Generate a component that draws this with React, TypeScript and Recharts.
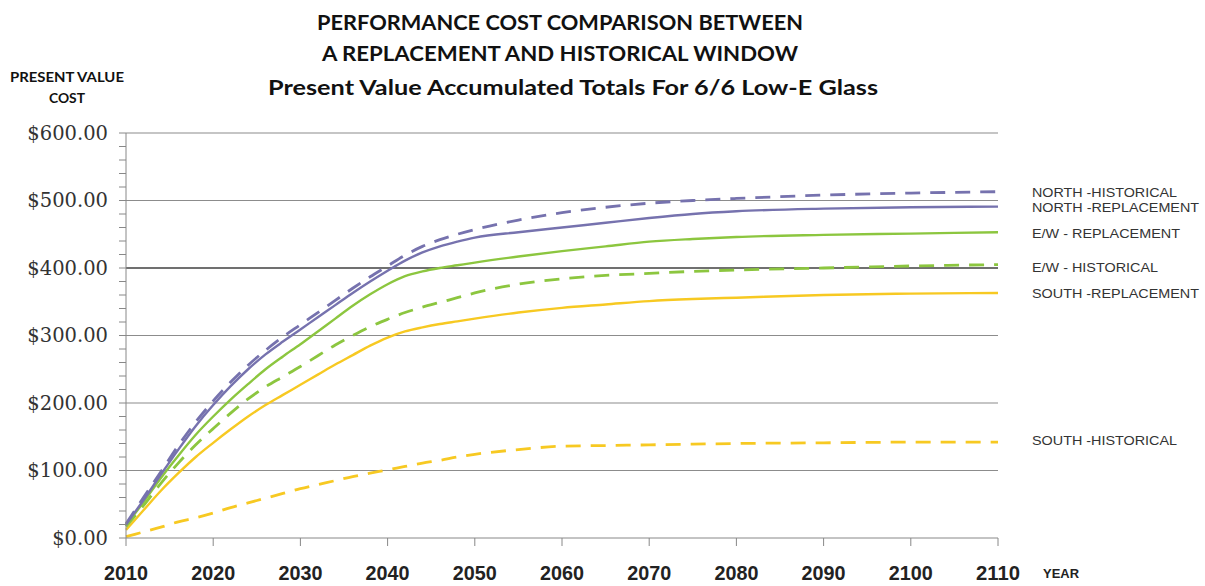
import React from "react";
import { LineChart, Line, XAxis, YAxis, ReferenceLine } from "recharts";

const years = [2010, 2012, 2014, 2016, 2018, 2020, 2022, 2024, 2026, 2028, 2030, 2032, 2034, 2036, 2038, 2040, 2042, 2044, 2046, 2048, 2050, 2055, 2060, 2065, 2070, 2075, 2080, 2090, 2100, 2110];

const northHistorical = [21, 60, 98, 137, 172, 203, 231, 256, 278, 298, 316, 334, 352, 370, 387, 403, 419, 432, 442, 450, 457, 471, 482, 490, 496, 500, 503, 508, 511, 513];
const northReplacement = [20, 56, 94, 131, 166, 197, 225, 250, 272, 291, 309, 327, 345, 363, 380, 396, 411, 423, 432, 439, 445, 453, 460, 467, 474, 480, 484, 488, 490, 491];
const ewReplacement = [19, 53, 89, 122, 153, 180, 205, 228, 250, 269, 287, 306, 325, 344, 361, 376, 388, 395, 400, 404, 408, 417, 425, 432, 439, 443, 446, 449, 451, 453];
const ewHistorical = [17, 48, 81, 111, 138, 162, 185, 206, 224, 239, 254, 270, 286, 300, 313, 324, 334, 342, 349, 356, 363, 376, 384, 389, 392, 395, 397, 400, 403, 405];
const southReplacement = [12, 41, 70, 96, 120, 141, 161, 180, 197, 212, 227, 242, 257, 271, 285, 297, 306, 312, 317, 321, 325, 334, 341, 346, 351, 354, 356, 360, 362, 363];
const southHistorical = [2, 9, 16, 24, 30, 37, 45, 52, 59, 66, 73, 79, 85, 91, 96, 101, 106, 111, 115, 120, 124, 131, 136, 137, 138, 139, 140, 141, 142, 142];

const xTicks = [2010, 2020, 2030, 2040, 2050, 2060, 2070, 2080, 2090, 2100, 2110];
const yTicks = [0, 20, 40, 60, 80, 100, 120, 140, 160, 180, 200, 220, 240, 260, 280, 300, 320, 340, 360, 380, 400, 420, 440, 460, 480, 500, 520, 540, 560, 580, 600];
const gridValues = [100, 200, 300, 400, 500, 600];

const titleLines = ["PERFORMANCE COST COMPARISON BETWEEN", "A REPLACEMENT AND HISTORICAL WINDOW", "Present Value Accumulated Totals For 6/6 Low-E Glass"];
const yAxisTitle = ["PRESENT VALUE", "COST"];
const xAxisTitle = "YEAR";
const seriesLabels = ["NORTH -HISTORICAL", "NORTH -REPLACEMENT", "E/W - REPLACEMENT", "E/W - HISTORICAL", "SOUTH -REPLACEMENT", "SOUTH -HISTORICAL"];

const data = years.map((year, i) => ({
  year,
  nh: northHistorical[i],
  nr: northReplacement[i],
  ewr: ewReplacement[i],
  ewh: ewHistorical[i],
  sr: southReplacement[i],
  sh: southHistorical[i],
}));

const PURPLE = "#7672AE";
const GREEN = "#8CC63F";
const YELLOW = "#F7C922";

const YTick = (props: any) => {
  const { x, y, payload } = props;
  if (payload.value % 100 !== 0) return null;
  return (
    <text x={x} y={y} textAnchor="end" dominantBaseline="central" fontFamily="DejaVu Serif" fontSize={19.5} fill="#333">
      {"$" + payload.value.toFixed(2)}
    </text>
  );
};

const XTick = (props: any) => {
  const { x, y, payload } = props;
  return (
    <text x={x} y={y + 34} textAnchor="middle" fontFamily="'Liberation Sans Narrow', 'Liberation Sans', sans-serif" fontWeight="bold" fontSize={20} fill="#222" textLength={44} lengthAdjust="spacingAndGlyphs">
      {payload.value}
    </text>
  );
};

const labelStyle = { fontFamily: "'Liberation Sans', Arial, sans-serif", fontSize: 13, fill: "#333" } as const;

export default function App() {
  return (
    <div style={{ position: "absolute", left: 0, top: 0, width: 1205, height: 586, background: "#fff" }}>
      <LineChart width={1205} height={586} data={data} margin={{ top: 133, right: 207, bottom: 8, left: 66 }}>
        <XAxis
          dataKey="year"
          type="number"
          domain={[2010, 2110]}
          ticks={xTicks}
          interval={0}
          height={40}
          tickSize={8}
          tickMargin={0}
          stroke="#888"
          tick={<XTick />}
        />
        <YAxis
          type="number"
          domain={[0, 600]}
          ticks={yTicks}
          interval={0}
          width={60}
          tickSize={7}
          tickMargin={11}
          stroke="#888"
          tick={<YTick />}
        />
        {gridValues.map((v) => (
          <ReferenceLine key={v} y={v} stroke={v === 400 ? "#707070" : "#8c8c8c"} strokeWidth={v === 400 ? 2 : 1.2} />
        ))}
        <Line type="monotone" dataKey="sh" stroke={YELLOW} strokeWidth={2.8} strokeDasharray="15 10" dot={false} isAnimationActive={false} />
        <Line type="monotone" dataKey="sr" stroke={YELLOW} strokeWidth={2.4} dot={false} isAnimationActive={false} />
        <Line type="monotone" dataKey="ewh" stroke={GREEN} strokeWidth={2.8} strokeDasharray="15 10" dot={false} isAnimationActive={false} />
        <Line type="monotone" dataKey="ewr" stroke={GREEN} strokeWidth={2.4} dot={false} isAnimationActive={false} />
        <Line type="monotone" dataKey="nr" stroke={PURPLE} strokeWidth={2.4} dot={false} isAnimationActive={false} />
        <Line type="monotone" dataKey="nh" stroke={PURPLE} strokeWidth={2.8} strokeDasharray="15 10" dot={false} isAnimationActive={false} />
      </LineChart>
      <svg width={1205} height={586} style={{ position: "absolute", left: 0, top: 0, pointerEvents: "none" }}>
        <text x={560} y={21} textAnchor="middle" dominantBaseline="central" fontFamily="Lato, 'Open Sans', sans-serif" fontWeight="bold" fontSize={21} fill="#111" textLength={486} lengthAdjust="spacingAndGlyphs">{titleLines[0]}</text>
        <text x={560} y={52} textAnchor="middle" dominantBaseline="central" fontFamily="Lato, 'Open Sans', sans-serif" fontWeight="bold" fontSize={21} fill="#111" textLength={476} lengthAdjust="spacingAndGlyphs">{titleLines[1]}</text>
        <text x={573} y={87} textAnchor="middle" dominantBaseline="central" fontFamily="Lato, 'Open Sans', sans-serif" fontWeight="bold" fontSize={20} fill="#111" textLength={610} lengthAdjust="spacingAndGlyphs">{titleLines[2]}</text>
        <text x={67} y={77} textAnchor="middle" dominantBaseline="central" fontFamily="Lato, 'Open Sans', sans-serif" fontWeight="bold" fontSize={13} fill="#111" textLength={114} lengthAdjust="spacingAndGlyphs">{yAxisTitle[0]}</text>
        <text x={67} y={98} textAnchor="middle" dominantBaseline="central" fontFamily="Lato, 'Open Sans', sans-serif" fontWeight="bold" fontSize={13} fill="#111" textLength={36} lengthAdjust="spacingAndGlyphs">{yAxisTitle[1]}</text>
        <text x={1043} y={573} dominantBaseline="central" fontFamily="'Liberation Sans Narrow', 'Liberation Sans', sans-serif" fontWeight="bold" fontSize={13} fill="#222" textLength={36} lengthAdjust="spacingAndGlyphs">{xAxisTitle}</text>
        <text x={1032} y={192} dominantBaseline="central" {...labelStyle} textLength={145} lengthAdjust="spacingAndGlyphs">{seriesLabels[0]}</text>
        <text x={1032} y={207} dominantBaseline="central" {...labelStyle} textLength={167} lengthAdjust="spacingAndGlyphs">{seriesLabels[1]}</text>
        <text x={1032} y={233} dominantBaseline="central" {...labelStyle} textLength={148} lengthAdjust="spacingAndGlyphs">{seriesLabels[2]}</text>
        <text x={1032} y={267} dominantBaseline="central" {...labelStyle} textLength={126} lengthAdjust="spacingAndGlyphs">{seriesLabels[3]}</text>
        <text x={1032} y={293} dominantBaseline="central" {...labelStyle} textLength={167} lengthAdjust="spacingAndGlyphs">{seriesLabels[4]}</text>
        <text x={1032} y={440} dominantBaseline="central" {...labelStyle} textLength={145} lengthAdjust="spacingAndGlyphs">{seriesLabels[5]}</text>
      </svg>
    </div>
  );
}
